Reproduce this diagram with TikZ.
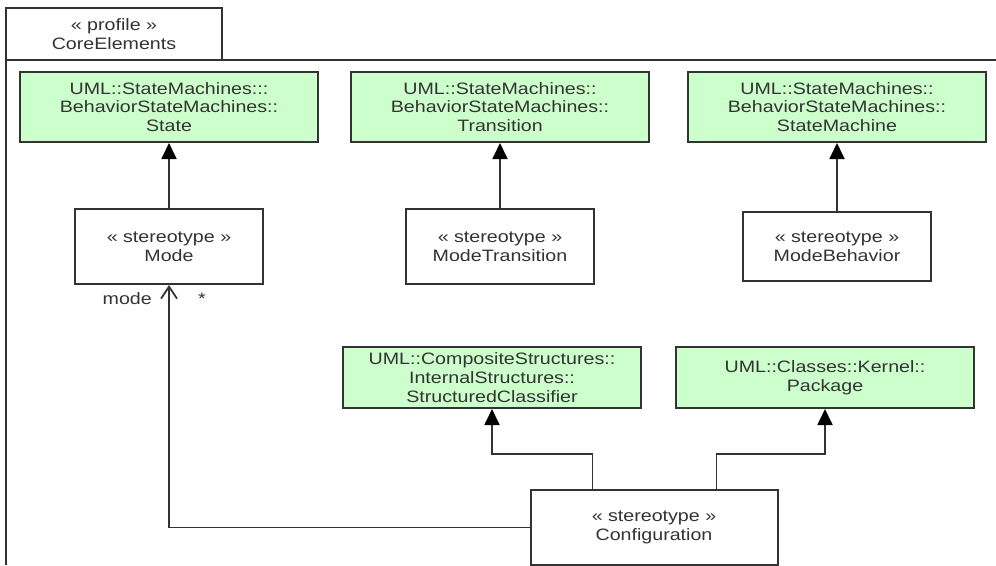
\documentclass[tikz,border=0pt]{standalone}
\usepackage{fontspec}
\setmainfont{Liberation Sans}[FakeStretch=1.19]
\usetikzlibrary{positioning,arrows.meta}
\definecolor{metagreen}{HTML}{CCFFCC}
\definecolor{umlgray}{HTML}{333333}
\begin{document}
\begin{tikzpicture}[x=1pt, y=-1pt, node distance={65pt}, text=umlgray, font=\fontsize{16.5}{18.7}\selectfont,
  box/.style = {draw=umlgray, line width=2pt, align=center, inner sep=0pt},
  meta/.style = {box, fill=metagreen, minimum width=298pt, minimum height=70pt},
  stereo/.style = {box, fill=white, minimum width=188pt, minimum height=75pt},
  gen/.style = {draw=umlgray, line width=1.8pt, -{Triangle[length=16pt,width=15pt,color=black]}},
  assoc/.style = {draw=umlgray, line width=1.8pt, -{Straight Barb[length=12pt,width=16pt]}},
  frame/.style = {draw=umlgray, line width=2pt},
  label/.style = {inner sep=0pt}]
\useasboundingbox (0,0) rectangle (996,565);
% package frame with its tab
\coordinate (framebottom) at (6,565);
\coordinate (frameright) at (996,60);
\draw[frame] (framebottom) |- (frameright);
\node[box, fill=white, minimum width=216pt, minimum height=52pt] (profile) at (114,34) {« profile »\\CoreElements};
% metaclasses
\node[meta] (state) at (169,107) {UML::StateMachines:::\\BehaviorStateMachines::\\State};
\node[meta] (trans) [right=31pt of state] {UML::StateMachines::\\BehaviorStateMachines::\\Transition};
\node[meta] (machine) [right=37pt of trans] {UML::StateMachines::\\BehaviorStateMachines::\\StateMachine};
% stereotypes
\node[stereo] (mode) [below=65pt of state] {« stereotype »\\Mode};
\node[stereo] (modetrans) [below=65pt of trans] {« stereotype »\\ModeTransition};
\node[stereo, minimum height=69pt] (modebeh) [below=68pt of machine] {« stereotype »\\ModeBehavior};
\node[meta, minimum height=61pt] (classifier) [below=61pt of modetrans, xshift=-8pt] {UML::CompositeStructures::\\InternalStructures::\\StructuredClassifier};
\node[meta, minimum height=61pt] (package) [right=33pt of classifier] {UML::Classes::Kernel::\\Package};
\node[stereo, minimum width=247pt] (config) [below=80pt of classifier, xshift=162pt] {« stereotype »\\Configuration};
% association ends
\node[label] (rolename) [below left=7pt and 17pt of mode.south] {mode};
\node[label] (multiplicity) [below right=8pt and 29pt of mode.south] {*};
\draw[gen] (mode) -- (state);
\draw[gen] (modetrans) -- (trans);
\draw[gen] (modebeh) -- (machine);
\draw[gen] ([xshift=-61.5pt]config.north) -- ++(0pt,35pt) -| (classifier);
\draw[gen] ([xshift=62.5pt]config.north) -- ++(0pt,35pt) -| (package);
\draw[assoc] (config.west) -| (mode);
\end{tikzpicture}
\end{document}
